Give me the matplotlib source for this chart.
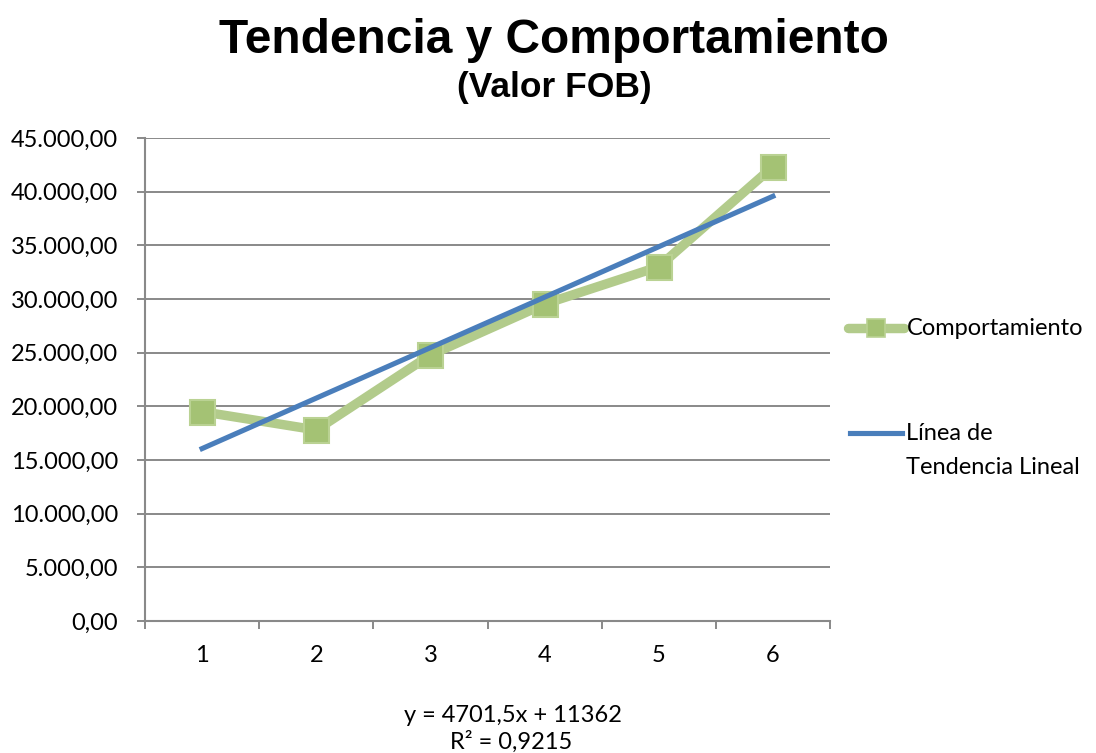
import numpy as np
import matplotlib.pyplot as plt
from matplotlib.lines import Line2D
from matplotlib.ticker import FuncFormatter, FixedLocator

# data
periods = [1, 2, 3, 4, 5, 6]
fob_values = [19500, 17800, 24780, 29530, 33010, 42330]
trend_slope = 4701.5
trend_intercept = 11362
r_squared = 0.9215
y_ticks = np.arange(0, 45001, 5000)
series_label = 'Comportamiento'
trend_label = ['Línea de', 'Tendencia Lineal']


def es_number(v, pos=None):
    """Spanish style: 45.000,00"""
    s = f"{v:,.2f}"
    return s.replace(",", "X").replace(".", ",").replace("X", ".")


W, H = 1096, 753
fig = plt.figure(figsize=(W / 100, H / 100), dpi=100)
ax = fig.add_axes([145 / W, 1 - 621 / H, 685 / W, 483 / H])

green_line = '#B2CB8B'
green_face = '#A4C274'
green_edge = '#BAD293'
blue = '#4A7EBB'
grid_gray = '#898989'
fs = 17

ax.plot(periods, fob_values, color=green_line, linewidth=6.8, marker='s',
        markersize=18, markerfacecolor=green_face, markeredgecolor=green_edge,
        markeredgewidth=1.5, zorder=3)

x_trend = np.array([periods[0], periods[-1]])
y_trend = trend_slope * x_trend + trend_intercept
ax.plot(x_trend, y_trend, color=blue, linewidth=3.7, zorder=4)

ax.set_xlim(0.5, 6.5)
ax.set_ylim(0, 45000)
ax.set_yticks(y_ticks)
ax.yaxis.set_major_formatter(FuncFormatter(es_number))
ax.set_xticks(periods)
ax.set_xticklabels([str(p) for p in periods])
ax.xaxis.set_minor_locator(FixedLocator(np.arange(0.5, 6.6, 1)))
ax.tick_params(axis='x', which='major', length=0, pad=17)
ax.tick_params(axis='x', which='minor', length=5.8, width=1.4, color=grid_gray)
ax.tick_params(axis='y', length=5.8, width=1.4, color=grid_gray, pad=13.5)

for lab in ax.get_xticklabels() + ax.get_yticklabels():
    lab.set_fontfamily('Lato')
    lab.set_fontsize(fs)

ax.grid(axis='y', color=grid_gray, linewidth=1.4)
ax.set_axisbelow(True)
for side in ['top', 'right']:
    ax.spines[side].set_visible(False)
for side in ['left', 'bottom']:
    ax.spines[side].set_color(grid_gray)
    ax.spines[side].set_linewidth(1.5)

# legend on the right, drawn by hand to keep Excel's layout
y_leg1 = 1 - 328 / H
fig.add_artist(Line2D([848 / W, 904 / W], [y_leg1, y_leg1], color=green_line,
                      linewidth=6.8, solid_capstyle='round'))
fig.add_artist(Line2D([876 / W], [y_leg1], marker='s', markersize=13,
                      markerfacecolor=green_face, markeredgecolor=green_edge,
                      markeredgewidth=1.2, linestyle='none'))
fig.text(907 / W, y_leg1, series_label, ha='left', va='center',
         fontsize=fs, family='Lato')

y_leg2 = 1 - 433 / H
fig.add_artist(Line2D([850 / W, 902 / W], [y_leg2, y_leg2], color=blue,
                      linewidth=3.7))
fig.text(906 / W, y_leg2, trend_label[0], ha='left', va='center',
         fontsize=fs, family='Lato')
fig.text(906 / W, 1 - 467 / H, trend_label[1], ha='left', va='center',
         fontsize=fs, family='Lato')

fig.text(0.505, 1 - 53 / H, 'Tendencia y Comportamiento', ha='center',
         va='baseline', fontsize=34.5, fontweight='bold', family='Liberation Sans')
fig.text(0.506, 1 - 97 / H, '(Valor FOB)', ha='center', va='baseline',
         fontsize=25.5, fontweight='bold', family='Liberation Sans')

eq = f'y = {trend_slope:.1f}x + {trend_intercept}'.replace('.', ',')
r2 = f'R² = {r_squared:.4f}'.replace('.', ',')
fig.text(0.468, 1 - 722 / H, eq, ha='center', va='baseline',
         fontsize=fs, family='Lato')
fig.text(0.466, 1 - 749 / H, r2, ha='center', va='baseline',
         fontsize=fs, family='Lato')

fig.savefig('out.png', dpi=100)
